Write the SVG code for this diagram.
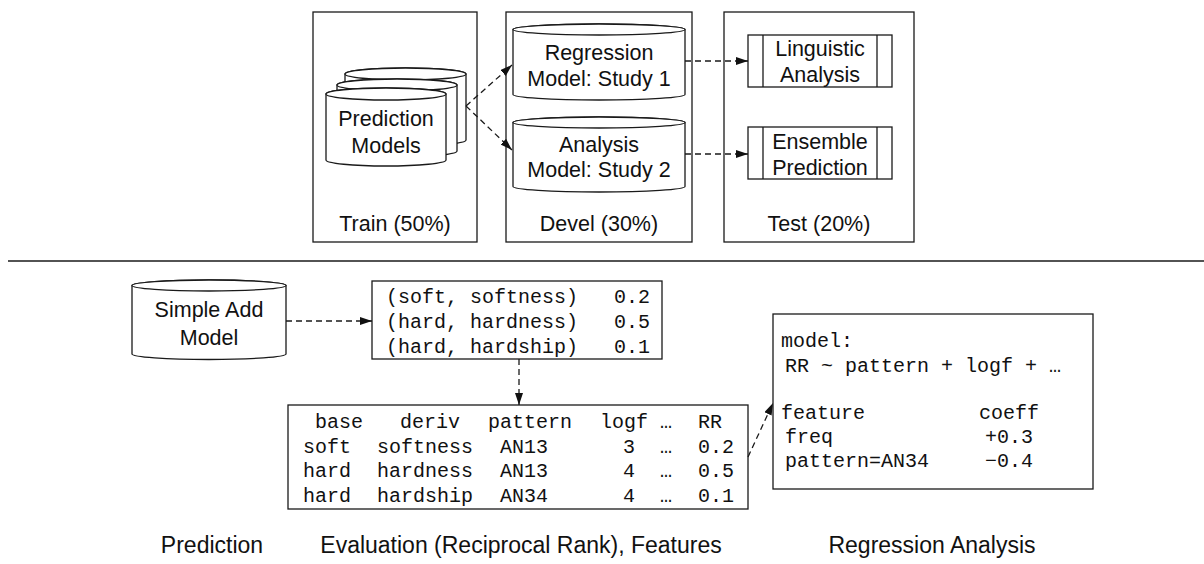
<svg xmlns="http://www.w3.org/2000/svg" width="1204" height="564" viewBox="0 0 1204 564">
<style>
.box{fill:#fff;stroke:#1a1a1a;stroke-width:1.3}
.cyl{fill:#fff;stroke:#1a1a1a;stroke-width:1.3}
.sans{font-family:"Liberation Sans",Arial,Helvetica,sans-serif;font-size:21.5px;fill:#111;text-anchor:middle}
.lbl{font-size:23px}
.mono{font-family:"Liberation Mono","Courier New",monospace;font-size:20px;fill:#111}
.dash{fill:none;stroke:#1a1a1a;stroke-width:1.3;stroke-dasharray:6 4;marker-end:url(#ah)}
</style>
<defs>
<marker id="ah" markerUnits="userSpaceOnUse" markerWidth="13" markerHeight="9" refX="12" refY="4" orient="auto">
<path d="M0,0 L12,4 L0,8 z" fill="#111"/>
</marker>
</defs>
<rect width="1204" height="564" fill="#fff"/>

<g id="train">
<rect class="box" x="313" y="12" width="164" height="230"/>
<text class="sans" x="395" y="231">Train (50%)</text>
</g>
<g id="devel">
<rect class="box" x="506" y="12" width="186" height="230"/>
<text class="sans" x="599" y="231">Devel (30%)</text>
</g>
<g id="test">
<rect class="box" x="724" y="12" width="190" height="230"/>
<text class="sans" x="819" y="231">Test (20%)</text>
</g>

<g id="prediction-models">
<path class="cyl" d="M345,74 A60.5,6 0 0 1 466,74 L466,140 A60.5,6 0 0 1 345,140 Z"/>
<ellipse class="cyl" cx="405.5" cy="74" rx="60.5" ry="6"/>
<path class="cyl" d="M337,85 A60,6 0 0 1 457,85 L457,151 A60,6 0 0 1 337,151 Z"/>
<ellipse class="cyl" cx="397" cy="85" rx="60" ry="6"/>
<path class="cyl" d="M326,94 A60,6 0 0 1 446,94 L446,160 A60,6 0 0 1 326,160 Z"/>
<ellipse class="cyl" cx="386" cy="94" rx="60" ry="6"/>
<text class="sans" x="386" y="126">Prediction</text>
<text class="sans" x="386" y="153">Models</text>
</g>

<g id="regression-model">
<path class="cyl" d="M513,29.5 A86,5.5 0 0 1 685,29.5 L685,94.5 A86,5.5 0 0 1 513,94.5 Z"/>
<ellipse class="cyl" cx="599" cy="29.5" rx="86" ry="5.5"/>
<text class="sans" x="599" y="60">Regression</text>
<text class="sans" x="599" y="86">Model: Study 1</text>
</g>
<g id="analysis-model">
<path class="cyl" d="M513,122.5 A86,5.5 0 0 1 685,122.5 L685,186.5 A86,5.5 0 0 1 513,186.5 Z"/>
<ellipse class="cyl" cx="599" cy="122.5" rx="86" ry="5.5"/>
<text class="sans" x="599" y="152">Analysis</text>
<text class="sans" x="599" y="177">Model: Study 2</text>
</g>

<g id="linguistic-analysis">
<rect class="box" x="748" y="35" width="144" height="52"/>
<line class="box" x1="763" y1="35" x2="763" y2="87"/>
<line class="box" x1="877" y1="35" x2="877" y2="87"/>
<text class="sans" x="820" y="56">Linguistic</text>
<text class="sans" x="820" y="82">Analysis</text>
</g>
<g id="ensemble-prediction">
<rect class="box" x="748" y="127" width="144" height="52"/>
<line class="box" x1="763" y1="127" x2="763" y2="179"/>
<line class="box" x1="877" y1="127" x2="877" y2="179"/>
<text class="sans" x="820" y="149">Ensemble</text>
<text class="sans" x="820" y="175">Prediction</text>
</g>

<line x1="8" y1="261" x2="1204" y2="261" stroke="#1a1a1a" stroke-width="1.4"/>

<g id="simple-add-model">
<path class="cyl" d="M132,285.5 A77,5.5 0 0 1 286,285.5 L286,354 A77,5.5 0 0 1 132,354 Z"/>
<ellipse class="cyl" cx="209" cy="285.5" rx="77" ry="5.5"/>
<text class="sans" x="209" y="317">Simple Add</text>
<text class="sans" x="209" y="345">Model</text>
</g>

<g id="pairs">
<rect class="box" x="372" y="281" width="290" height="78"/>
<text class="mono" x="386" y="303" xml:space="preserve">(soft, softness)   0.2</text>
<text class="mono" x="386" y="328" xml:space="preserve">(hard, hardness)   0.5</text>
<text class="mono" x="386" y="353" xml:space="preserve">(hard, hardship)   0.1</text>
</g>

<g id="features-table">
<rect class="box" x="288" y="405" width="460" height="104"/>
<g class="mono">
<text x="315" y="428">base</text><text x="400" y="428">deriv</text><text x="488" y="428">pattern</text><text x="600" y="428">logf</text><text x="660" y="428">…</text><text x="698" y="428">RR</text>
<text x="303" y="453">soft</text><text x="377" y="453">softness</text><text x="500" y="453">AN13</text><text x="623" y="453">3</text><text x="660" y="453">…</text><text x="698" y="453">0.2</text>
<text x="303" y="477">hard</text><text x="377" y="477">hardness</text><text x="500" y="477">AN13</text><text x="623" y="477">4</text><text x="660" y="477">…</text><text x="698" y="477">0.5</text>
<text x="303" y="502">hard</text><text x="377" y="502">hardship</text><text x="500" y="502">AN34</text><text x="623" y="502">4</text><text x="660" y="502">…</text><text x="698" y="502">0.1</text>
</g>
</g>

<g id="regression-analysis">
<rect class="box" x="773" y="314" width="320" height="175"/>
<g class="mono">
<text x="781" y="347">model:</text>
<text x="785" y="372">RR ~ pattern + logf + …</text>
<text x="781" y="419">feature</text><text x="979" y="419">coeff</text>
<text x="785" y="443">freq</text><text x="985" y="443">+0.3</text>
<text x="785" y="467">pattern=AN34</text><text x="985" y="467">−0.4</text>
</g>
</g>

<g id="connectors">
<line class="dash" x1="466" y1="106" x2="512" y2="65"/>
<line class="dash" x1="466" y1="106" x2="512" y2="150"/>
<line class="dash" x1="685" y1="61" x2="748" y2="61"/>
<line class="dash" x1="685" y1="154" x2="748" y2="154"/>
<line class="dash" x1="286" y1="321" x2="372" y2="321"/>
<line class="dash" x1="519" y1="359" x2="519" y2="405"/>
<line class="dash" x1="748" y1="457" x2="773" y2="403"/>
</g>

<g id="labels">
<text class="sans lbl" x="212" y="553">Prediction</text>
<text class="sans lbl" x="521" y="553">Evaluation (Reciprocal Rank), Features</text>
<text class="sans lbl" x="932" y="553">Regression Analysis</text>
</g>
</svg>
